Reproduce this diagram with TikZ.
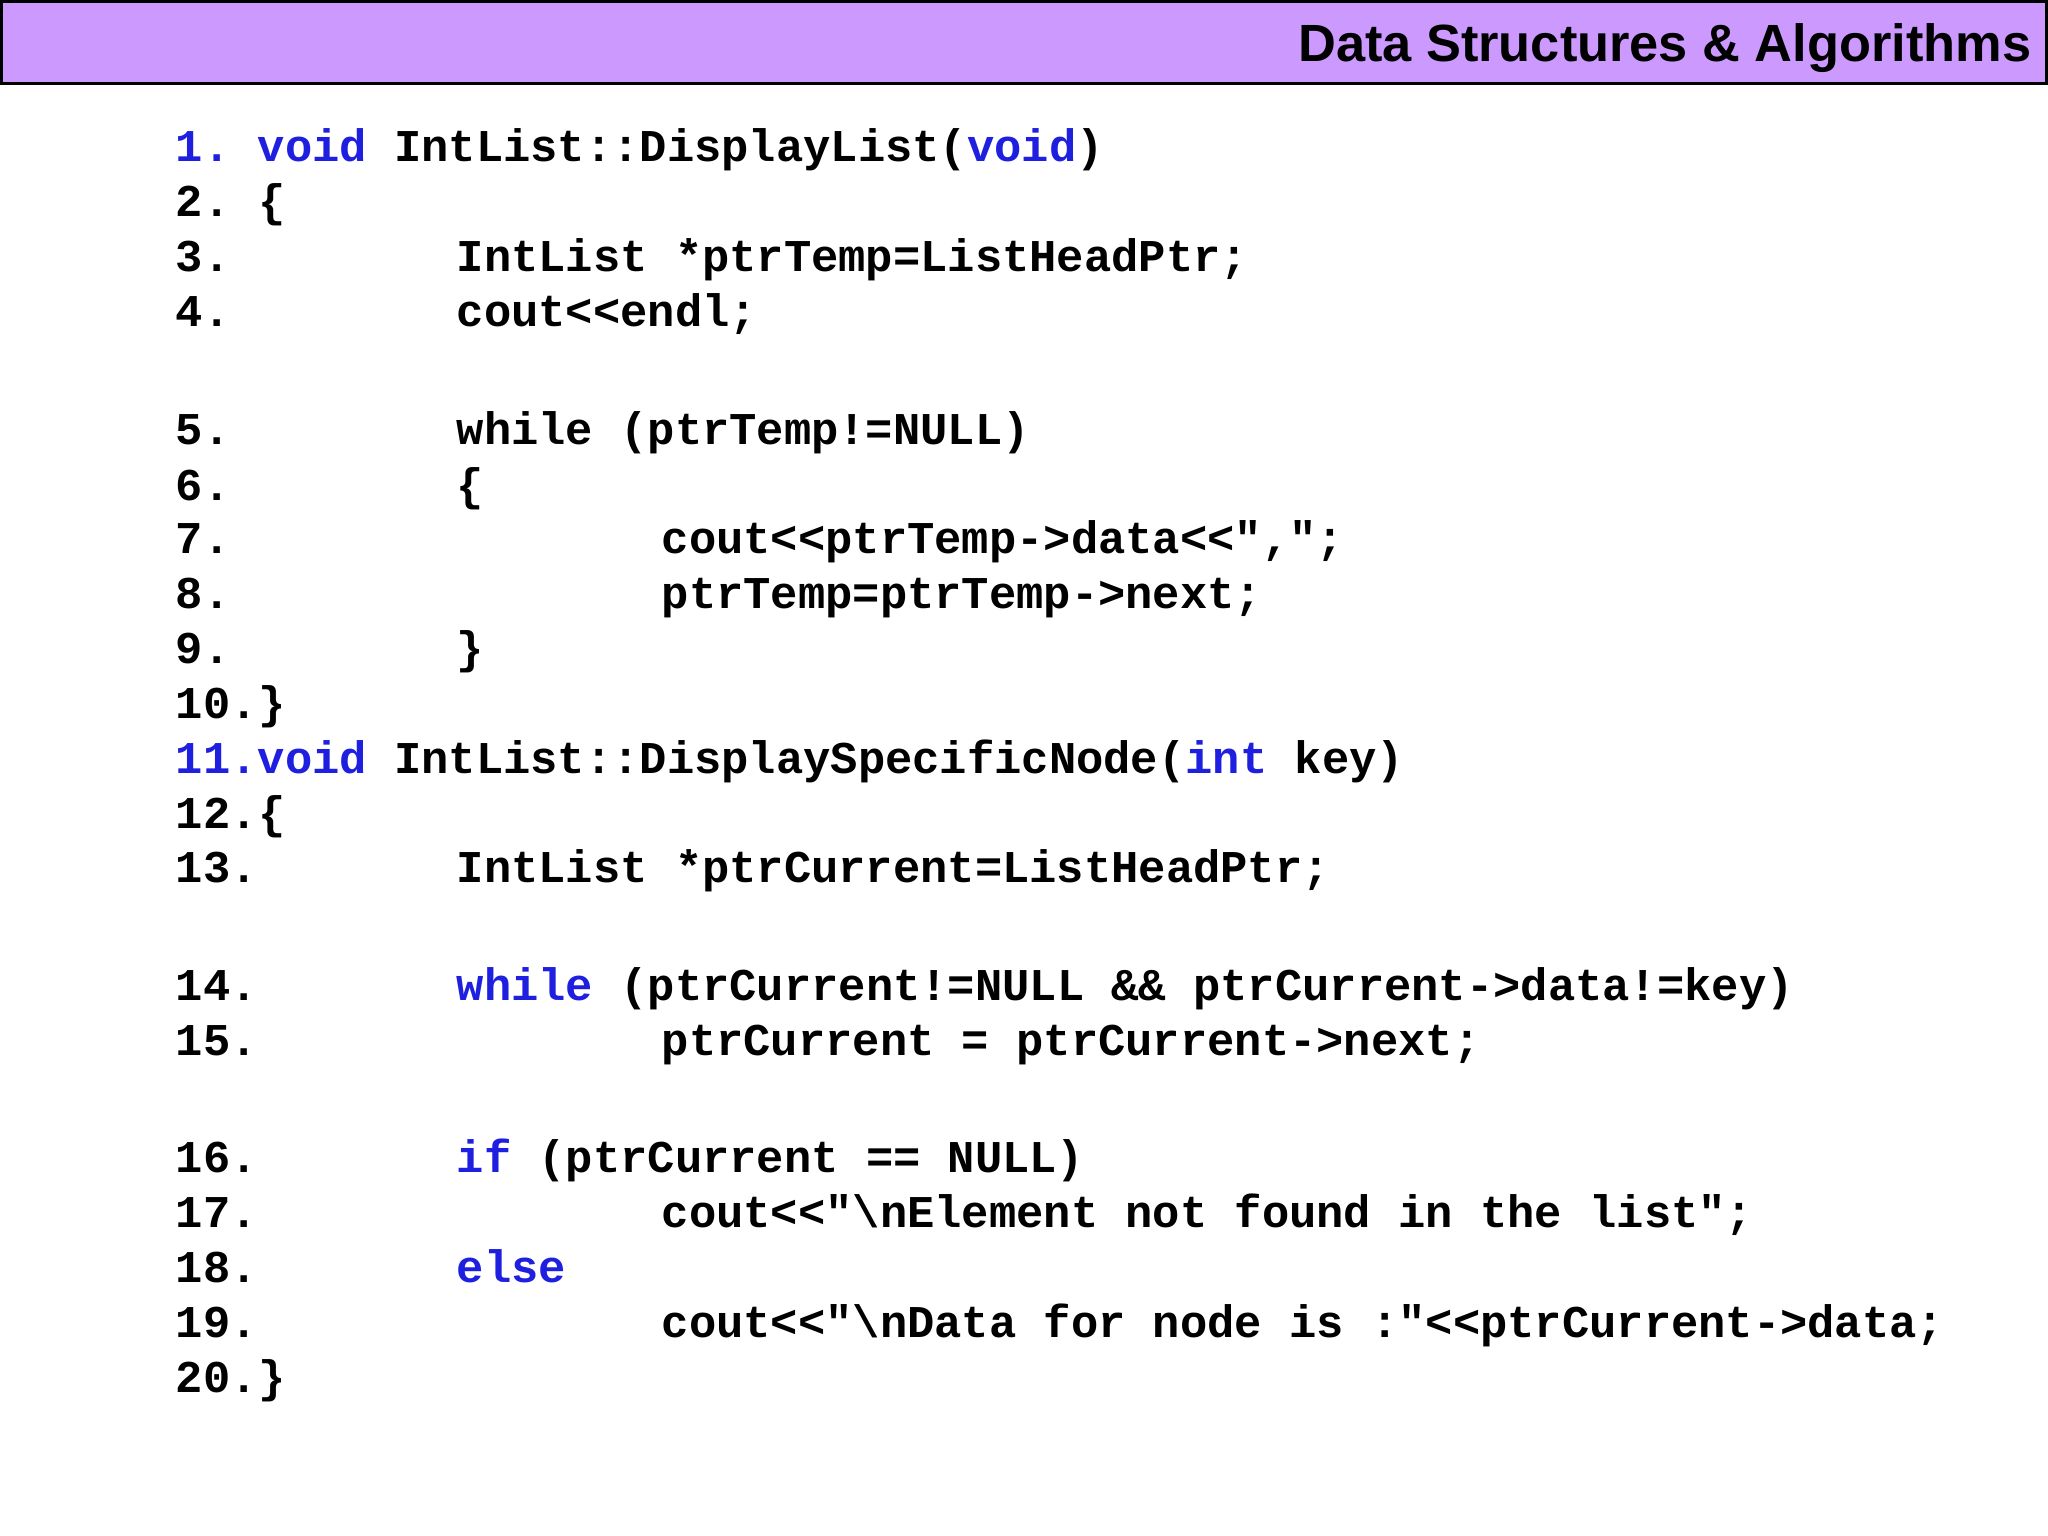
\documentclass[tikz,border=0pt]{standalone}
\usepackage{fontspec}
\setmainfont{Liberation Sans}
\setmonofont{Liberation Mono}
\definecolor{band}{HTML}{CC99FF}
\definecolor{kw}{HTML}{1F1FE0}
\tikzset{code/.style={anchor=base west,inner sep=0pt,font=\ttfamily\bfseries\fontsize{9.9pt}{12pt}\selectfont}}
\newcommand{\kw}[1]{\textcolor{kw}{#1}}
\begin{document}
\begin{tikzpicture}[x=0.01cm,y=-0.01cm]
\useasboundingbox (0,0) rectangle (1568,1176);
\fill[white] (0,0) rectangle (1568,1176);
\node[draw=black,fill=band,line width=0.8pt,minimum width=1566\pgflinewidth,inner sep=0pt,anchor=north west] (band) at (1,1) {};
\fill[band,draw=black,line width=0.8pt] (1,1) rectangle (1567,64);
\node[anchor=base east,inner sep=0pt,font=\bfseries\fontsize{11.4pt}{13pt}\selectfont] (title) at (1556,47) {Data Structures \& Algorithms};
% numbers
\foreach \n/\y in {2/158,3/200,4/242,5/332,6/375,7/416,8/458,9/500,10/542,12/626,13/668,14/758,15/800,16/890,17/932,18/974,19/1016,20/1058}
  \node[code] (n\n) at (134,\y+8) {\n.};
\node[code] (l1) at (134,124) {\kw{1.} \kw{void} IntList::DisplayList(\kw{void})};
\node[code] (l2) at (197,166) {\{};
\node[code] (l3) at (349,208) {IntList *ptrTemp=ListHeadPtr;};
\node[code] (l4) at (349,250) {cout<{}<endl;};
\node[code] (l5) at (349,340) {while (ptrTemp!=NULL)};
\node[code] (l6) at (349,383) {\{};
\node[code] (l7) at (506,424) {cout<{}<ptrTemp->data<{}<",";};
\node[code] (l8) at (506,466) {ptrTemp=ptrTemp->next;};
\node[code] (l9) at (349,508) {\}};
\node[code] (l10) at (197,550) {\}};
\node[code] (l11) at (134,592) {\kw{11.void} IntList::DisplaySpecificNode(\kw{int} key)};
\node[code] (l12) at (197,634) {\{};
\node[code] (l13) at (349,676) {IntList *ptrCurrent=ListHeadPtr;};
\node[code] (l14) at (349,766) {\kw{while} (ptrCurrent!=NULL \&\& ptrCurrent->data!=key)};
\node[code] (l15) at (506,808) {ptrCurrent = ptrCurrent->next;};
\node[code] (l16) at (349,898) {\kw{if} (ptrCurrent == NULL)};
\node[code] (l17) at (506,940) {cout<{}<"\textbackslash nElement not found in the list";};
\node[code] (l18) at (349,982) {\kw{else}};
\node[code] (l19) at (506,1024) {cout<{}<"\textbackslash nData for node is :"<{}<ptrCurrent->data;};
\node[code] (l20) at (197,1066) {\}};
\end{tikzpicture}
\end{document}
